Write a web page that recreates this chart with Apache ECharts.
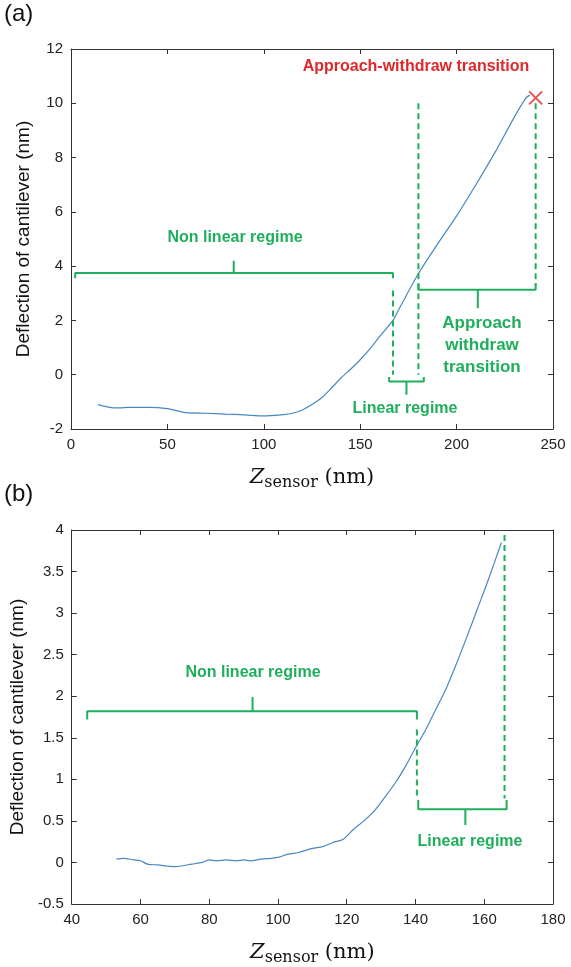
<!DOCTYPE html>
<html>
<head>
<meta charset="utf-8">
<script src="https://cdn.jsdelivr.net/npm/echarts@6/dist/echarts.min.js"></script>
<style>html,body{margin:0;padding:0;background:#fff}#chart{width:571px;height:967px}</style>
</head>
<body>
<div id="chart"></div>
<script>
// panel (a) curve
let zA = [14, 20, 25, 30, 40, 50, 60, 70, 80, 90, 100, 110, 115, 120, 125, 130, 135, 140, 145, 150, 155, 160, 167, 170, 180, 190, 200, 210, 220, 230, 236, 238];
let dA = [-1.1, -1.2, -1.22, -1.2, -1.2, -1.25, -1.4, -1.42, -1.45, -1.48, -1.52, -1.47, -1.42, -1.3, -1.1, -0.85, -0.5, -0.12, 0.2, 0.55, 0.95, 1.4, 2.0, 2.4, 3.7, 4.8, 5.85, 7.0, 8.2, 9.5, 10.2, 10.3];
// panel (b) curve
let zB = [53, 55, 58, 60, 62, 65, 70, 75, 78, 80, 82, 85, 88, 90, 92, 95, 98, 100, 103, 106, 110, 113, 116, 119, 122, 125, 128, 131, 134, 137, 140, 143, 146, 149, 152, 155, 158, 161, 165];
let dB = [0.04, 0.05, 0.03, 0.02, -0.02, -0.03, -0.05, -0.02, 0.0, 0.03, 0.02, 0.03, 0.02, 0.03, 0.02, 0.04, 0.05, 0.06, 0.1, 0.12, 0.17, 0.19, 0.24, 0.28, 0.4, 0.5, 0.62, 0.78, 0.95, 1.15, 1.38, 1.6, 1.85, 2.1, 2.4, 2.72, 3.05, 3.38, 3.85];
let xTicksA = [0, 50, 100, 150, 200, 250];
let yTicksA = [-2, 0, 2, 4, 6, 8, 10, 12];
let xTicksB = [40, 60, 80, 100, 120, 140, 160, 180];
let yTicksB = [-0.5, 0, 0.5, 1, 1.5, 2, 2.5, 3, 3.5, 4];
let transitionPoint = [241, 10.2];

let green = "#1fae5c";
let blue = "#4a86c0";
let zip = (xs, ys) => xs.map((x, i) => [x, ys[i]]);

function axisPair(gi, ticks, isX, showLabel) {
	let base = {
		type: "value", gridIndex: gi,
		min: ticks[0], max: ticks[ticks.length - 1], interval: ticks[1] - ticks[0],
		axisLine: {show: true, onZero: false, lineStyle: {color: "#333"}},
		axisTick: {inside: true, length: 5, lineStyle: {color: "#333"}},
		splitLine: {show: false}
	};
	let main = Object.assign({}, base, {
		position: isX ? "bottom" : "left",
		axisLabel: {show: showLabel, color: "#222", fontSize: 15, fontFamily: "Arial, Liberation Sans", margin: 8}
	});
	let mirror = Object.assign({}, base, {position: isX ? "top" : "right", axisLabel: {show: false}});
	return [main, mirror];
}

function xName() {
	return {
		name: "{z|Z}{s|sensor}{n| (nm)}", nameLocation: "middle", nameGap: 36,
		nameTextStyle: {rich: {
			z: {fontSize: 21, fontStyle: "italic", fontFamily: "DejaVu Serif", color: "#111"},
			s: {fontSize: 16, fontFamily: "DejaVu Serif", color: "#111", padding: [10, 0, 0, 0]},
			n: {fontSize: 21, fontFamily: "DejaVu Serif", color: "#111"}
		}}
	};
}
function yName() {
	return {name: "Deflection of cantilever (nm)", nameLocation: "middle", nameGap: 38,
		nameTextStyle: {fontSize: 19, fontFamily: "Arial, Liberation Sans", color: "#111"}};
}

let [xa, xa2] = axisPair(0, xTicksA, true, true);
let [ya, ya2] = axisPair(0, yTicksA, false, true);
let [xb, xb2] = axisPair(1, xTicksB, true, true);
let [yb, yb2] = axisPair(1, yTicksB, false, true);
Object.assign(xa, xName()); Object.assign(xb, xName());
Object.assign(ya, yName()); Object.assign(yb, yName());

function guide(xi, yi, pts, dashed) {
	return {
		type: "line", xAxisIndex: xi, yAxisIndex: yi, data: pts, symbol: "none", silent: true,
		lineStyle: {color: green, width: 2, type: dashed ? [6, 4] : "solid"}, z: 3
	};
}
function bracket(xi, yi, x0, x1, y, tip, mid, yc) {
	return guide(xi, yi, [[x0, tip], [x0, y], [mid, y], [mid, yc], [mid, y], [x1, y], [x1, tip]], false);
}

let labelFont = {fontWeight: "bold", fontFamily: "Arial, Liberation Sans", fill: green, align: "center", verticalAlign: "middle"};
function note(x, y, text, size, extra) {
	return {type: "text", x: x, y: y, style: Object.assign({text: text, fontSize: size}, labelFont, extra || {})};
}

let option = {
	animation: false,
	grid: [
		{left: 71, top: 49, width: 482, height: 380},
		{left: 71, top: 530, width: 482, height: 381}
	],
	xAxis: [xa, xa2, xb, xb2].map((a, i) => Object.assign(a, {gridIndex: i < 2 ? 0 : 1})),
	yAxis: [ya, ya2, yb, yb2].map((a, i) => Object.assign(a, {gridIndex: i < 2 ? 0 : 1})),
	series: [
		{type: "line", xAxisIndex: 0, yAxisIndex: 0, data: zip(zA, dA), symbol: "none", smooth: 0.3,
			lineStyle: {color: blue, width: 1.2}},
		{type: "scatter", xAxisIndex: 0, yAxisIndex: 0, data: [transitionPoint], symbol: "path://M0,0L10,10M10,0L0,10",
			symbolSize: 13, itemStyle: {color: "none", borderColor: "#e0272a", borderWidth: 2}},
		guide(0, 0, [[167, 3.1], [167, 0]], true),
		guide(0, 0, [[180.2, 10], [180.2, 0]], true),
		guide(0, 0, [[241, 10], [241, 3.3]], true),
		bracket(0, 0, 2.2, 167, 3.75, 3.55, 84.4, 4.2),
		bracket(0, 0, 180.2, 241, 3.13, 3.35, 211, 2.45),
		bracket(0, 0, 165, 183, -0.25, -0.08, 174, -0.74),
		{type: "line", xAxisIndex: 2, yAxisIndex: 2, data: zip(zB, dB), symbol: "none", smooth: 0.3,
			lineStyle: {color: blue, width: 1.2}},
		guide(2, 2, [[140.4, 1.6], [140.4, 0.77]], true),
		guide(2, 2, [[165.9, 3.94], [165.9, 0.77]], true),
		bracket(2, 2, 44.5, 140.4, 1.82, 1.72, 92.6, 1.99),
		bracket(2, 2, 140.8, 166.5, 0.64, 0.75, 154.5, 0.45)
	],
	graphic: [
		{type: "text", left: 4, top: 2, style: {text: "(a)", fontSize: 24, fontFamily: "Arial, Liberation Sans", fill: "#111"}},
		{type: "text", left: 4, top: 482, style: {text: "(b)", fontSize: 24, fontFamily: "Arial, Liberation Sans", fill: "#111"}},
		note(416, 67, "Approach-withdraw transition", 16, {fill: "#e0272a"}),
		note(235, 238, "Non linear regime", 16),
		note(482, 345, "Approach\nwithdraw\ntransition", 17, {lineHeight: 22}),
		note(405, 409, "Linear regime", 16),
		note(253, 673, "Non linear regime", 16),
		note(470, 842, "Linear regime", 16)
	]
};

let chart = echarts.init(document.getElementById("chart"));
chart.setOption(option);
</script>
</body>
</html>
